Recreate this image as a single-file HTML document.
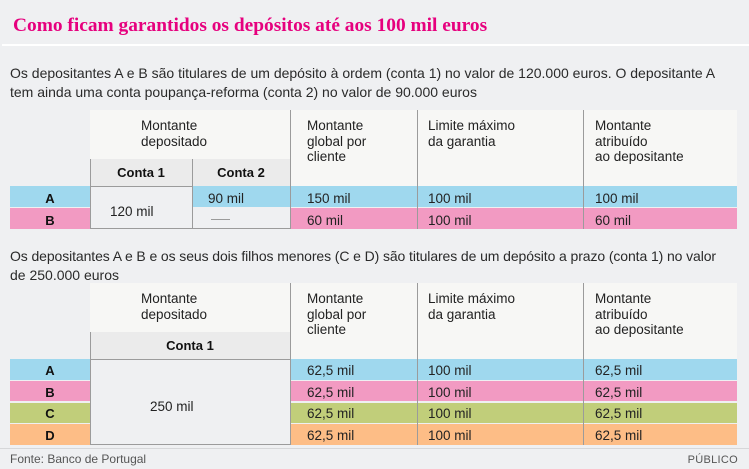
<!DOCTYPE html>
<html><head><meta charset="utf-8">
<style>
*{margin:0;padding:0;box-sizing:border-box}
html,body{width:749px;height:469px;overflow:hidden;background:#eff0f2}
body{position:relative;font-family:"Liberation Sans",Arial,sans-serif;color:#222}
.a{position:absolute;white-space:nowrap}
.r{position:absolute}
.title{left:13px;top:16px;font-family:"Liberation Serif",serif;font-weight:bold;font-size:19.4px;line-height:19px;color:#e6007e}
.p{left:10px;font-size:14px;line-height:19px;color:#2a2a2a}
.h{font-size:13.5px;line-height:15.5px;color:#222}
.v{font-size:13.5px;line-height:21px;color:#222}
.lb{left:10px;width:80px;text-align:center;font-weight:bold;font-size:13px;line-height:21px;color:#111}
.sh{font-weight:bold;font-size:13px;line-height:27px;text-align:center;color:#111}
.vl{position:absolute;width:1px;background:#9b9b9b}
.hb{position:absolute;background:#f7f7f5}
.sb{position:absolute;background:#ebebeb;border-left:1px solid #9b9b9b}
.cy{background:#9fd8ee}
.pk{background:#f29ac2}
.gr{background:#c1ce7a}
.or{background:#fdbd86}
.cell{position:absolute;background:#eff0f2;border:1px solid #9b9b9b}
.ft{font-size:12px;line-height:14px;color:#555}
</style>
</head>
<body>

<div class="a title">Como ficam garantidos os depósitos até aos 100 mil euros</div>
<div class="r" style="left:2px;top:44px;width:747px;height:2px;background:#fff"></div>

<div class="a p" style="top:64px">Os depositantes A e B são titulares de um depósito à ordem (conta 1) no valor de 120.000 euros. O depositante A</div>
<div class="a p" style="top:83px">tem ainda uma conta poupança-reforma (conta 2) no valor de 90.000 euros</div>

<!-- TABLE 1 -->
<div class="hb" style="left:90px;top:110px;width:647px;height:76px"></div>
<div class="sb" style="left:90px;top:159px;width:200px;height:27px"></div>

<div class="r cy" style="left:10px;top:186px;width:727px;height:21px"></div>
<div class="r pk" style="left:10px;top:208px;width:727px;height:20.5px"></div>

<div class="r" style="left:192px;top:207px;width:98px;height:22px;background:#eff0f2;border-bottom:1px solid #9b9b9b"></div>
<div class="cell" style="left:90px;top:186px;width:103px;height:43px"></div>

<div class="vl" style="left:192px;top:159px;height:70px"></div>
<div class="vl" style="left:290px;top:110px;height:119px"></div>
<div class="vl" style="left:417px;top:110px;height:119px"></div>
<div class="vl" style="left:583px;top:110px;height:119px"></div>

<div class="a h" style="left:141px;top:118px">Montante<br>depositado</div>
<div class="a h" style="left:307px;top:118px">Montante<br>global por<br>cliente</div>
<div class="a h" style="left:428px;top:118px">Limite máximo<br>da garantia</div>
<div class="a h" style="left:595px;top:118px">Montante<br>atribuído<br>ao depositante</div>

<div class="a sh" style="left:90px;top:159px;width:102px">Conta 1</div>
<div class="a sh" style="left:192px;top:159px;width:98px">Conta 2</div>

<div class="a lb" style="top:187.5px">A</div>
<div class="a lb" style="top:209.5px">B</div>

<div class="a v" style="left:110px;top:201px">120 mil</div>
<div class="a v" style="left:208px;top:187.5px">90 mil</div>
<div class="r" style="left:211px;top:219px;width:19px;height:1px;background:#9b9b9b"></div>

<div class="a v" style="left:307px;top:187.5px">150 mil</div>
<div class="a v" style="left:428px;top:187.5px">100 mil</div>
<div class="a v" style="left:595px;top:187.5px">100 mil</div>
<div class="a v" style="left:307px;top:209.5px">60 mil</div>
<div class="a v" style="left:428px;top:209.5px">100 mil</div>
<div class="a v" style="left:595px;top:209.5px">60 mil</div>

<!-- PARAGRAPH 2 -->
<div class="a p" style="top:247px;letter-spacing:-0.1px">Os depositantes A e B e os seus dois filhos menores (C e D) são titulares de um depósito a prazo (conta 1) no valor</div>
<div class="a p" style="top:266px">de 250.000 euros</div>

<!-- TABLE 2 -->
<div class="hb" style="left:90px;top:283px;width:647px;height:76px"></div>
<div class="sb" style="left:90px;top:332px;width:200px;height:27px"></div>

<div class="r cy" style="left:10px;top:359px;width:727px;height:20.5px"></div>
<div class="r pk" style="left:10px;top:381px;width:727px;height:20.3px"></div>
<div class="r gr" style="left:10px;top:402.7px;width:727px;height:20.2px"></div>
<div class="r or" style="left:10px;top:424.3px;width:727px;height:20.7px"></div>

<div class="cell" style="left:90px;top:359px;width:201px;height:86px"></div>

<div class="vl" style="left:290px;top:283px;height:162px"></div>
<div class="vl" style="left:417px;top:283px;height:162px"></div>
<div class="vl" style="left:583px;top:283px;height:162px"></div>

<div class="a h" style="left:141px;top:291px">Montante<br>depositado</div>
<div class="a h" style="left:307px;top:291px">Montante<br>global por<br>cliente</div>
<div class="a h" style="left:428px;top:291px">Limite máximo<br>da garantia</div>
<div class="a h" style="left:595px;top:291px">Montante<br>atribuído<br>ao depositante</div>

<div class="a sh" style="left:90px;top:332px;width:200px">Conta 1</div>

<div class="a lb" style="top:360px">A</div>
<div class="a lb" style="top:381.5px">B</div>
<div class="a lb" style="top:403px">C</div>
<div class="a lb" style="top:425px">D</div>

<div class="a v" style="left:150px;top:395.7px">250 mil</div>

<div class="a v" style="left:307px;top:360px">62,5 mil</div>
<div class="a v" style="left:428px;top:360px">100 mil</div>
<div class="a v" style="left:595px;top:360px">62,5 mil</div>
<div class="a v" style="left:307px;top:381.5px">62,5 mil</div>
<div class="a v" style="left:428px;top:381.5px">100 mil</div>
<div class="a v" style="left:595px;top:381.5px">62,5 mil</div>
<div class="a v" style="left:307px;top:403px">62,5 mil</div>
<div class="a v" style="left:428px;top:403px">100 mil</div>
<div class="a v" style="left:595px;top:403px">62,5 mil</div>
<div class="a v" style="left:307px;top:425px">62,5 mil</div>
<div class="a v" style="left:428px;top:425px">100 mil</div>
<div class="a v" style="left:595px;top:425px">62,5 mil</div>

<!-- FOOTER -->
<div class="r" style="left:0;top:448px;width:749px;height:1px;background:#d6d7d9"></div>
<div class="a ft" style="left:10px;top:452px">Fonte: Banco de Portugal</div>
<div class="a ft" style="right:11px;top:452.5px;font-size:11px;letter-spacing:0.3px">PÚBLICO</div>

</body></html>
